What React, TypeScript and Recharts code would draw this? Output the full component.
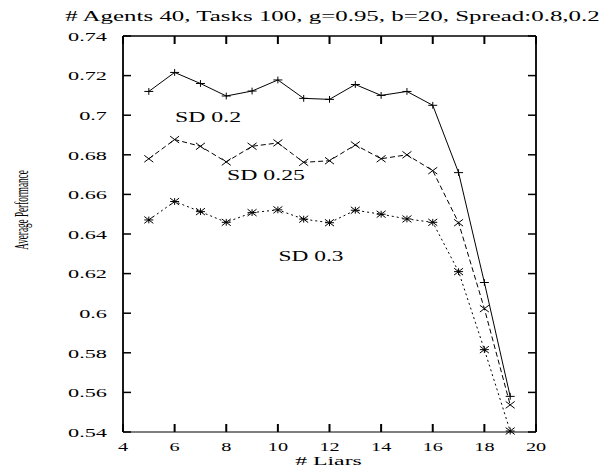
import React from "react";
import { ComposedChart, Line, Scatter, XAxis, YAxis } from "recharts";

const liars = [5, 6, 7, 8, 9, 10, 11, 12, 13, 14, 15, 16, 17, 18, 19];
const sd02 = [0.712, 0.7216, 0.716, 0.7097, 0.7122, 0.7178, 0.7085, 0.708, 0.7155, 0.71, 0.712, 0.705, 0.671, 0.6155, 0.558];
const sd025 = [0.678, 0.6877, 0.6843, 0.6764, 0.6843, 0.686, 0.6762, 0.677, 0.685, 0.678, 0.68, 0.672, 0.6457, 0.6023, 0.5537];
const sd03 = [0.6471, 0.6564, 0.6513, 0.6459, 0.6508, 0.6522, 0.6475, 0.6457, 0.652, 0.65, 0.6476, 0.6459, 0.621, 0.5816, 0.5405];

const xTicks = [4, 6, 8, 10, 12, 14, 16, 18, 20];
const yTicks = [0.54, 0.56, 0.58, 0.6, 0.62, 0.64, 0.66, 0.68, 0.7, 0.72, 0.74];
const yTickLabels = ["0.54", "0.56", "0.58", "0.6", "0.62", "0.64", "0.66", "0.68", "0.7", "0.72", "0.74"];

const title = "# Agents 40, Tasks 100, g=0.95, b=20, Spread:0.8,0.2";
const xLabel = "# Liars";
const yLabel = "Average Performance";
const seriesLabels = ["SD 0.2", "SD 0.25", "SD 0.3"];

const data = liars.map((x, i) => ({ x, sd02: sd02[i], sd025: sd025[i], sd03: sd03[i] }));

const FONT = "'Liberation Serif', 'Times New Roman', serif";
const TICK_IN = 8;
const LEFT_MARGIN = 16;
const BOTTOM_MARGIN = 9;

const LeftTick = (props: any) => {
  const { x, y, payload } = props;
  const idx = yTicks.findIndex((t) => Math.abs(t - payload.value) < 1e-9);
  const label = idx >= 0 ? yTickLabels[idx] : String(payload.value);
  const nx = Number(x);
  const ny = Number(y);
  const edge = nx + LEFT_MARGIN;
  return (
    <g>
      <line x1={edge} y1={ny} x2={edge + TICK_IN} y2={ny} stroke="#000" strokeWidth={1.5} />
      <text
        transform={`translate(${nx},${ny}) scale(1.65,1)`}
        x={0}
        y={0}
        dy="0.35em"
        textAnchor="end"
        fontSize={13.5}
        fontFamily={FONT}
        fill="#000"
      >
        {label}
      </text>
    </g>
  );
};

const BottomTick = (props: any) => {
  const { x, y, payload } = props;
  const nx = Number(x);
  const ny = Number(y);
  const edge = ny - BOTTOM_MARGIN;
  return (
    <g>
      <line x1={nx} y1={edge} x2={nx} y2={edge - TICK_IN} stroke="#000" strokeWidth={2} />
      <text
        transform={`translate(${nx},${ny}) scale(1.5,1)`}
        x={0}
        y={0}
        dy="0.71em"
        textAnchor="middle"
        fontSize={13.5}
        fontFamily={FONT}
        fill="#000"
      >
        {String(payload.value)}
      </text>
    </g>
  );
};

const blank = () => "";

const HW = 4.5;
const HH = 3.4;

const PlusShape = (props: any) => {
  const { cx, cy } = props;
  if (cx == null || cy == null) return <g />;
  return (
    <g stroke="#000" strokeWidth={1}>
      <line x1={cx - HW} y1={cy} x2={cx + HW} y2={cy} />
      <line x1={cx} y1={cy - HH} x2={cx} y2={cy + HH} />
    </g>
  );
};

const CrossShape = (props: any) => {
  const { cx, cy } = props;
  if (cx == null || cy == null) return <g />;
  return (
    <g stroke="#000" strokeWidth={1}>
      <line x1={cx - HW} y1={cy - HH} x2={cx + HW} y2={cy + HH} />
      <line x1={cx - HW} y1={cy + HH} x2={cx + HW} y2={cy - HH} />
    </g>
  );
};

const StarShape = (props: any) => {
  const { cx, cy } = props;
  if (cx == null || cy == null) return <g />;
  return (
    <g stroke="#000" strokeWidth={1}>
      <line x1={cx - HW} y1={cy - HH} x2={cx + HW} y2={cy + HH} />
      <line x1={cx - HW} y1={cy + HH} x2={cx + HW} y2={cy - HH} />
      <line x1={cx - HW} y1={cy} x2={cx + HW} y2={cy} />
      <line x1={cx} y1={cy - HH} x2={cx} y2={cy + HH} />
    </g>
  );
};

const Stretched = (props: { x: number; y: number; sx: number; size: number; children: string; anchor?: string }) => (
  <text
    transform={`translate(${props.x},${props.y}) scale(${props.sx},1)`}
    x={0}
    y={0}
    textAnchor={props.anchor || "middle"}
    fontSize={props.size}
    fontFamily={FONT}
    fill="#000"
  >
    {props.children}
  </text>
);

export default function App() {
  return (
    <div style={{ position: "absolute", left: 0, top: 0, width: 607, height: 476, background: "#fff" }}>
      <ComposedChart
        width={607}
        height={476}
        data={data}
        margin={{ top: 36, right: 71, bottom: 14, left: 63 }}
      >
        <XAxis
          dataKey="x"
          type="number"
          domain={[4, 20]}
          ticks={xTicks}
          height={30}
          axisLine={{ stroke: "#000", strokeWidth: 1.2 }}
          tickLine={false}
          tickSize={0}
          tickMargin={BOTTOM_MARGIN}
          tick={<BottomTick />}
          interval={0}
        />
        <XAxis
          xAxisId="top"
          orientation="top"
          mirror
          dataKey="x"
          type="number"
          domain={[4, 20]}
          ticks={xTicks}
          height={1}
          axisLine={{ stroke: "#000", strokeWidth: 1.5 }}
          tickLine={{ stroke: "#000", strokeWidth: 2 }}
          tickSize={TICK_IN}
          tickFormatter={blank}
          interval={0}
        />
        <YAxis
          type="number"
          domain={[0.54, 0.74]}
          ticks={yTicks}
          width={60}
          axisLine={{ stroke: "#000", strokeWidth: 1.8 }}
          tickLine={false}
          tickSize={0}
          tickMargin={LEFT_MARGIN}
          tick={<LeftTick />}
          interval={0}
        />
        <YAxis
          yAxisId="right"
          orientation="right"
          mirror
          type="number"
          domain={[0.54, 0.74]}
          ticks={yTicks}
          width={1}
          axisLine={{ stroke: "#000", strokeWidth: 1.8 }}
          tickLine={{ stroke: "#000", strokeWidth: 1.5 }}
          tickSize={TICK_IN}
          tickFormatter={blank}
          interval={0}
        />
        <Line dataKey="sd02" stroke="#000" dot={false} isAnimationActive={false} />
        <Line
          dataKey="sd025"
          xAxisId="top"
          yAxisId="right"
          stroke="#000"
          strokeDasharray="5 3"
          dot={false}
          isAnimationActive={false}
        />
        <Line dataKey="sd03" stroke="#000" strokeDasharray="2 3" dot={false} isAnimationActive={false} />
        <Scatter dataKey="sd02" shape={PlusShape} isAnimationActive={false} />
        <Scatter dataKey="sd025" shape={CrossShape} isAnimationActive={false} />
        <Scatter dataKey="sd03" shape={StarShape} isAnimationActive={false} />
        <Stretched x={332.5} y={21} sx={1.78} size={14}>{title}</Stretched>
        <Stretched x={328.5} y={465} sx={1.76} size={13.5}>{xLabel}</Stretched>
        <text
          x={0}
          y={0}
          transform="translate(28,210) rotate(-90) scale(0.51,1)"
          textAnchor="middle"
          fontSize={18}
          fontFamily={FONT}
          fill="#000"
        >
          {yLabel}
        </text>
        <Stretched x={208} y={122} sx={1.75} size={13.6}>{seriesLabels[0]}</Stretched>
        <Stretched x={266} y={180} sx={1.75} size={13.6}>{seriesLabels[1]}</Stretched>
        <Stretched x={311} y={261} sx={1.72} size={13.6}>{seriesLabels[2]}</Stretched>
      </ComposedChart>
    </div>
  );
}
